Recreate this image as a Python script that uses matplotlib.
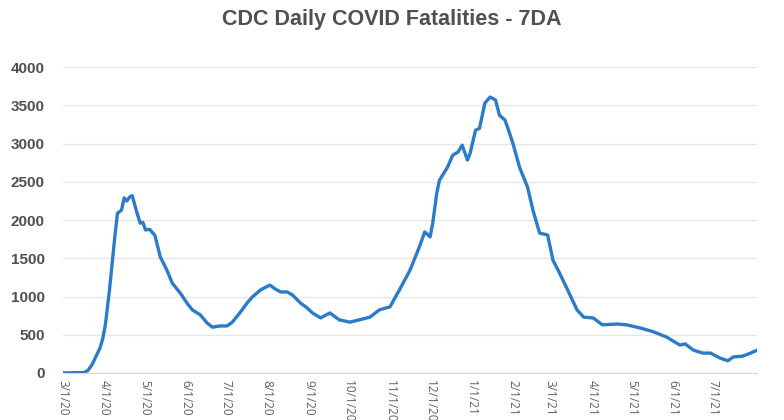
import numpy as np
import pandas as pd
import matplotlib
matplotlib.use('Agg')
import matplotlib.pyplot as plt

# 7-day average of daily deaths
dates = ['2020-03-01', '2020-03-17', '2020-03-20', '2020-03-23', '2020-03-26',
         '2020-03-29', '2020-03-31', '2020-04-02', '2020-04-05', '2020-04-09',
         '2020-04-11', '2020-04-14', '2020-04-16',
         '2020-04-18', '2020-04-20', '2020-04-22', '2020-04-25', '2020-04-28',
         '2020-04-30', '2020-05-02', '2020-05-05', '2020-05-09', '2020-05-13',
         '2020-05-18', '2020-05-22', '2020-05-28', '2020-06-02', '2020-06-06',
         '2020-06-12', '2020-06-17', '2020-06-21', '2020-06-27', '2020-07-02',
         '2020-07-06', '2020-07-12', '2020-07-17', '2020-07-21', '2020-07-27',
         '2020-08-03', '2020-08-07', '2020-08-11', '2020-08-16', '2020-08-20',
         '2020-08-26', '2020-08-31', '2020-09-04', '2020-09-10', '2020-09-17',
         '2020-09-24', '2020-10-02', '2020-10-09', '2020-10-17', '2020-10-24',
         '2020-11-01', '2020-11-08', '2020-11-16', '2020-11-23', '2020-11-27',
         '2020-12-01', '2020-12-03', '2020-12-06', '2020-12-08', '2020-12-14',
         '2020-12-18', '2020-12-22', '2020-12-25', '2020-12-29', '2020-12-31',
         '2021-01-04', '2021-01-07', '2021-01-11', '2021-01-15', '2021-01-17',
         '2021-01-19', '2021-01-22', '2021-01-26', '2021-01-28', '2021-02-01',
         '2021-02-06', '2021-02-12', '2021-02-16', '2021-02-21', '2021-02-27',
         '2021-03-03', '2021-03-08', '2021-03-14', '2021-03-21', '2021-03-26',
         '2021-04-02', '2021-04-09', '2021-04-20', '2021-04-27', '2021-05-07',
         '2021-05-17', '2021-05-27', '2021-06-06', '2021-06-10', '2021-06-16',
         '2021-06-23', '2021-06-29', '2021-07-06', '2021-07-12', '2021-07-16',
         '2021-07-23', '2021-07-29', '2021-08-03']
deaths = [0, 5, 35, 110, 220,
          330, 450, 640, 1085, 1780,
          2090, 2130, 2290,
          2250, 2300, 2320, 2130, 1960,
          1970, 1870, 1880, 1800, 1520,
          1345, 1175, 1045, 915, 825,
          760, 655, 600, 615, 615,
          665, 795, 915, 995, 1085,
          1150, 1100, 1060, 1060, 1020,
          915, 850, 785, 720, 785,
          695, 665, 695, 730, 825,
          865, 1085, 1345, 1650, 1845,
          1780, 1960, 2350, 2520, 2690,
          2850, 2890, 2980, 2785, 2875,
          3175, 3200, 3530, 3610, 3590,
          3570, 3370, 3310, 3215, 3005,
          2690, 2430, 2130, 1830, 1805,
          1475, 1305, 1085, 825, 730,
          720, 630, 640, 630, 590,
          540, 470, 365, 380, 300,
          260, 260, 195, 160, 210,
          220, 260, 300]

x = pd.to_datetime(dates)
ticks = pd.date_range('2020-03-01', '2021-07-01', freq='MS')
tick_labels = ['{}/{}/{}'.format(t.month, t.day, t.strftime('%y')) for t in ticks]

grey = '#505050'
fig = plt.figure(figsize=(7.84, 4.2), dpi=100)
ax = fig.add_axes([0.080, 0.112, 0.886, 0.728])

ax.plot(x, deaths, color='#2b7bca', linewidth=2.4, solid_joinstyle='round')

ax.set_ylim(0, 4000)
ax.set_xlim(pd.Timestamp('2020-03-01'), pd.Timestamp('2021-08-03'))
ax.set_yticks(np.arange(0, 4001, 500))
ax.set_xticks(ticks)
ax.set_xticklabels(tick_labels)

ax.grid(axis='y', color='#e6e6e6', linewidth=1)
ax.set_axisbelow(True)
for s in ['top', 'right', 'left']:
    ax.spines[s].set_visible(False)
ax.spines['bottom'].set_color('#d9d9d9')
ax.tick_params(axis='both', length=0)
ax.tick_params(axis='y', pad=13)
for lab in ax.get_yticklabels():
    lab.set_fontfamily('Liberation Sans')
    lab.set_fontweight('bold')
    lab.set_fontsize(11)
    lab.set_color(grey)
plt.setp(ax.get_xticklabels(), rotation=270, fontsize=8.5, color='#606060',
         fontfamily='Open Sans', va='top', ha='center')
ax.tick_params(axis='x', pad=5)

fig.suptitle('CDC Daily COVID Fatalities - 7DA', x=0.5, y=0.978,
             fontsize=15.5, fontweight='bold', color=grey, family='Liberation Sans')

fig.savefig('out.png', dpi=100)
